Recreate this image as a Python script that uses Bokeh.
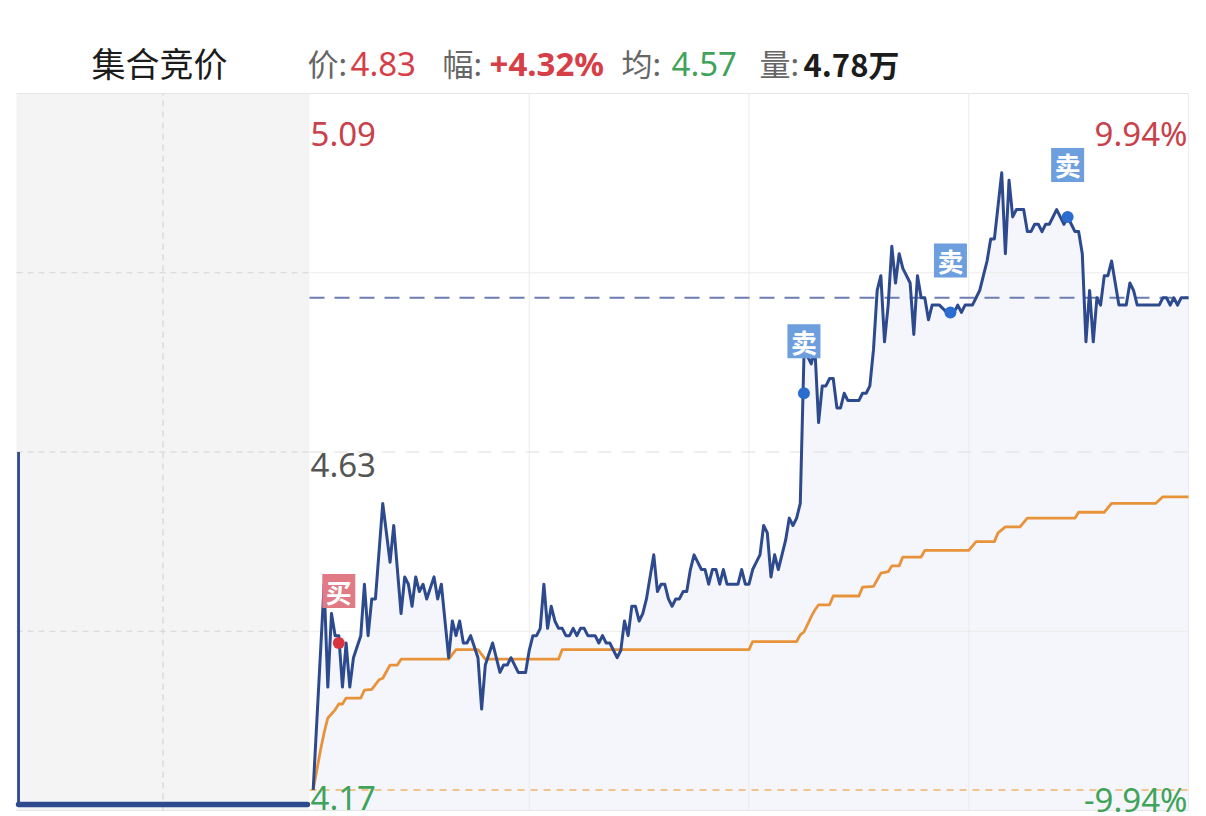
from bokeh.plotting import figure
from bokeh.models import Range1d, BoxAnnotation, Label
from bokeh.core.properties import value
from bokeh.embed import file_html
from bokeh.resources import INLINE

# ---------------- data ----------------
TITLE = "集合竞价"
HEADER_KEYS = ["价:", "幅:", "均:", "量:"]
HEADER_VALS = ["4.83", "+4.32%", "4.57", "4.78万"]
HEADER_KINDS = ["up", "up", "down", "plain"]

PRE_CLOSE = 4.63
LIMIT_UP = 5.09
LIMIT_DOWN = 4.17
UP_PCT = "9.94%"
DOWN_PCT = "-9.94%"

PRICE_MIN = [1, 4, 5, 6, 7, 8, 9, 10, 11, 12, 14, 15, 16, 17, 18, 20, 22, 23, 25, 26,
             27, 28, 29, 30, 31, 32, 34, 35, 36, 38, 39, 40, 41, 42, 43, 44, 46, 47, 48, 50,
             52, 53, 54, 55, 57, 59, 60, 61, 62, 63, 64, 65, 66, 67, 68, 69, 70, 71, 72, 73,
             74, 75, 76, 78, 79, 80, 81, 82, 84, 85, 86, 87, 88, 89, 90, 91, 92, 94, 95, 96,
             97, 98, 99, 100, 101, 102, 103, 104, 105, 106, 107, 108, 109, 110, 111, 112, 113, 114, 117, 118,
             119, 120, 121, 122, 123, 124, 125, 126, 127, 128, 129, 130, 131, 132, 133, 134, 135, 136, 137, 138,
             139, 140, 141, 142, 143, 144, 145, 146, 147, 150, 151, 152, 153, 154, 155, 156, 157, 158, 159, 160,
             161, 162, 163, 164, 165, 166, 167, 168, 169, 170, 172, 174, 176, 177, 178, 179, 181, 182, 183, 184,
             185, 186, 187, 189, 190, 191, 192, 193, 195, 196, 197, 198, 199, 200, 201, 202, 204, 205, 206, 207,
             208, 209, 210, 211, 212, 213, 214, 215, 216, 217, 218, 219, 221, 223, 224, 225, 226, 232, 233, 234,
             235, 236, 237, 238, 240]
PRICE = [4.17, 4.45, 4.31, 4.41, 4.38, 4.38, 4.31, 4.37, 4.31, 4.35, 4.38, 4.45, 4.38, 4.43, 4.43, 4.56, 4.48, 4.53, 4.41, 4.46,
         4.45, 4.42, 4.46, 4.44, 4.45, 4.43, 4.46, 4.43, 4.45, 4.35, 4.40, 4.38, 4.40, 4.37, 4.37, 4.38, 4.35, 4.28, 4.34, 4.37,
         4.33, 4.34, 4.34, 4.35, 4.33, 4.33, 4.36, 4.38, 4.38, 4.39, 4.45, 4.39, 4.42, 4.40, 4.39, 4.39, 4.38, 4.38, 4.39, 4.38,
         4.39, 4.39, 4.38, 4.38, 4.37, 4.38, 4.37, 4.37, 4.35, 4.36, 4.40, 4.38, 4.42, 4.42, 4.40, 4.41, 4.43, 4.49, 4.44, 4.45,
         4.45, 4.43, 4.42, 4.43, 4.43, 4.44, 4.44, 4.47, 4.49, 4.48, 4.47, 4.47, 4.45, 4.47, 4.47, 4.45, 4.47, 4.45, 4.45, 4.47,
         4.45, 4.45, 4.47, 4.48, 4.49, 4.53, 4.52, 4.46, 4.49, 4.47, 4.49, 4.51, 4.54, 4.53, 4.54, 4.56, 4.76, 4.76, 4.75, 4.77,
         4.67, 4.72, 4.72, 4.73, 4.73, 4.69, 4.69, 4.71, 4.70, 4.70, 4.71, 4.71, 4.72, 4.77, 4.85, 4.87, 4.78, 4.83, 4.91, 4.86,
         4.90, 4.88, 4.87, 4.86, 4.79, 4.87, 4.84, 4.84, 4.81, 4.83, 4.83, 4.82, 4.82, 4.83, 4.82, 4.83, 4.83, 4.84, 4.85, 4.87,
         4.89, 4.92, 4.92, 5.01, 4.90, 5.00, 4.95, 4.96, 4.96, 4.93, 4.93, 4.94, 4.94, 4.93, 4.94, 4.94, 4.96, 4.95, 4.94, 4.95,
         4.94, 4.93, 4.93, 4.90, 4.78, 4.85, 4.78, 4.84, 4.83, 4.87, 4.87, 4.89, 4.83, 4.83, 4.86, 4.85, 4.83, 4.83, 4.84, 4.84,
         4.83, 4.84, 4.83, 4.84, 4.84]

AVG_MIN = [1, 2, 3, 4, 5, 7, 8, 9, 10, 14, 15, 17, 19, 20, 22, 24, 25, 38, 40, 46,
           48, 68, 69, 120, 121, 133, 134, 135, 137, 138, 139, 142, 143, 150, 151, 154, 156, 158, 159, 161,
           162, 167, 168, 180, 182, 187, 188, 190, 194, 196, 209, 210, 217, 219, 231, 233, 240]
AVG = [4.170, 4.197, 4.224, 4.248, 4.268, 4.279, 4.287, 4.287, 4.295, 4.295, 4.306, 4.307, 4.320, 4.322, 4.340, 4.340, 4.348, 4.348, 4.361, 4.361,
       4.348, 4.348, 4.361, 4.361, 4.372, 4.372, 4.381, 4.385, 4.406, 4.415, 4.422, 4.422, 4.434, 4.434, 4.446, 4.447, 4.465, 4.467, 4.475, 4.475,
       4.487, 4.487, 4.496, 4.496, 4.508, 4.508, 4.520, 4.528, 4.528, 4.540, 4.540, 4.548, 4.548, 4.560, 4.560, 4.569, 4.569]

AUCTION_T = [0.07, 0.07, 9.93]
AUCTION_P = [4.63, 4.15, 4.15]

BUY_MIN = [8]
BUY_PRICE = [4.37]
SELL_MIN = [135, 175, 207]
SELL_PRICE = [4.71, 4.82, 4.95]

# ---------------- layout (page pixels) ----------------
W, H = 1206, 816
PAGE_X0, PAGE_Y0 = 0, 0
FRAME_L, FRAME_R, FRAME_T, FRAME_B = 16, 1188, 93, 810
SPLIT = 309
SESSION = 240
AUCTION_LEN = 10
HALF = 0.488

Y_TOP = PRE_CLOSE + HALF
Y_BOT = PRE_CLOSE - HALF
ppy = (FRAME_B - FRAME_T) / (2 * HALF)
ppx = (FRAME_R - SPLIT) / SESSION
LEFT_MIN = -(SPLIT - FRAME_L) / ppx
x_start = LEFT_MIN - (FRAME_L - PAGE_X0) / ppx
x_end = SESSION + (PAGE_X0 + W - FRAME_R) / ppx
y_end = Y_TOP + (FRAME_T - PAGE_Y0) / ppy
y_start = Y_BOT + (FRAME_B - (PAGE_Y0 + H)) / ppy
ppa = (SPLIT - FRAME_L) / AUCTION_LEN
a_start = -(FRAME_L - PAGE_X0) / ppa
a_end = AUCTION_LEN + (PAGE_X0 + W - SPLIT) / ppa


def px_x(px):
    return LEFT_MIN + (px - FRAME_L) / ppx


def px_y(py):
    return Y_TOP - (py - FRAME_T) / ppy


RED = "#d63e48"
RED_AX = "#c8414b"
GREEN = "#3fa35a"
GRAY = "#666666"
BLACK = "#1c1c1c"
BLUE = "#2e4a8e"
ORANGE = "#e8923a"

p = figure(width=W, height=H, x_range=Range1d(x_start, x_end), y_range=Range1d(y_start, y_end),
           output_backend="svg", toolbar_location=None, min_border=0,
           x_axis_location=None, y_axis_location=None, outline_line_color=None)
p.grid.visible = False
p.background_fill_color = "white"
p.border_fill_color = "white"
p.extra_x_ranges = {"auction": Range1d(a_start, a_end)}

# left auction panel background
p.add_layout(BoxAnnotation(left=LEFT_MIN, right=0, bottom=Y_BOT, top=Y_TOP,
                           fill_color="#f4f4f4", fill_alpha=1, line_color=None, level="underlay"))

# area under price
p.varea(x=PRICE_MIN, y1=Y_BOT, y2=PRICE, fill_color="#f4f6fb")

q1 = PRE_CLOSE + HALF / 2
q3 = PRE_CLOSE - HALF / 2

# frame borders
p.segment(x0=[LEFT_MIN, LEFT_MIN], y0=[Y_TOP, Y_BOT], x1=[SESSION, SESSION], y1=[Y_TOP, Y_BOT],
          line_color="#e6e6e6", line_width=1)
# right panel grid
p.segment(x0=[0, 0], y0=[q1, q3], x1=[SESSION, SESSION], y1=[q1, q3], line_color="#ebebeb", line_width=1)
p.segment(x0=[60, 120, 180, SESSION], y0=[Y_BOT] * 4, x1=[60, 120, 180, SESSION], y1=[Y_TOP] * 4,
          line_color="#ebebeb", line_width=1)
p.segment(x0=[0], y0=[PRE_CLOSE], x1=[SESSION], y1=[PRE_CLOSE], line_color="#dddddd",
          line_width=1.2, line_dash="14 10")
# left panel grid (dashed)
p.segment(x0=[LEFT_MIN] * 3, y0=[q1, PRE_CLOSE, q3], x1=[0] * 3, y1=[q1, PRE_CLOSE, q3],
          line_color="#d4d4d4", line_width=1.2, line_dash="6 5")
p.segment(x0=[AUCTION_LEN / 2], y0=[Y_BOT], x1=[AUCTION_LEN / 2], y1=[Y_TOP], x_range_name="auction",
          line_color="#d4d4d4", line_width=1.2, line_dash="6 5")

# limit-down and last price reference lines
p.segment(x0=[0], y0=[LIMIT_DOWN], x1=[SESSION], y1=[LIMIT_DOWN], line_color="#f2b36c",
          line_width=1.5, line_dash="7 6")
p.segment(x0=[0], y0=[PRICE[-1]], x1=[SESSION], y1=[PRICE[-1]], line_color="#6c7db2",
          line_width=1.8, line_dash="15 10")

# average and price lines
p.line(AVG_MIN, AVG, line_color=ORANGE, line_width=2.8, line_join="round")
p.line(PRICE_MIN, PRICE, line_color=BLUE, line_width=3, line_join="round")

# auction line
p.line(AUCTION_T, AUCTION_P, x_range_name="auction", line_color=BLUE, line_width=2.8)
p.line(AUCTION_T[1:], AUCTION_P[1:], x_range_name="auction", line_color=BLUE, line_width=5.5, line_cap="round")

# trade markers
BOX_RISE = 52 / ppy
p.scatter(BUY_MIN, BUY_PRICE, size=12, fill_color="#d8343f", line_color=None)
p.scatter(SELL_MIN, SELL_PRICE, size=12, fill_color="#2a6dcf", line_color=None)
p.rect(x=BUY_MIN, y=[v + BOX_RISE for v in BUY_PRICE], width=33, height=34,
       width_units="screen", height_units="screen", fill_color="#e07b86", line_color=None)
p.rect(x=SELL_MIN, y=[v + BOX_RISE for v in SELL_PRICE], width=33, height=34,
       width_units="screen", height_units="screen", fill_color="#6d9edd", line_color=None)
p.text(x=BUY_MIN, y=[v + BOX_RISE for v in BUY_PRICE], text=["买"] * len(BUY_MIN),
       text_font=value("Noto Sans CJK SC"), text_font_size="26px", text_color="white",
       text_align="center", text_baseline="middle", text_font_style="bold")
p.text(x=SELL_MIN, y=[v + BOX_RISE for v in SELL_PRICE], text=["卖"] * len(SELL_MIN),
       text_font=value("Noto Sans CJK SC"), text_font_size="26px", text_color="white",
       text_align="center", text_baseline="middle", text_font_style="bold")


def label(px, py, text, color, size, font="Noto Sans", align="left", style="normal"):
    p.add_layout(Label(x=px_x(px), y=px_y(py), text=text, text_color=color, text_font=font,
                       text_font_size=size, text_align=align, text_baseline="alphabetic",
                       text_font_style=style))


# axis value labels
label(310, 133, f"{LIMIT_UP:.2f}", RED_AX, "33px")
label(1187, 133, UP_PCT, RED_AX, "33px", align="right")
label(310, 464, f"{PRE_CLOSE:.2f}", "#555555", "33px")
label(310, 797, f"{LIMIT_DOWN:.2f}", GREEN, "33px")
label(1187, 799, DOWN_PCT, GREEN, "33px", align="right")

# header
label(91, 62, TITLE, BLACK, "34px", font="Noto Sans CJK SC")
KEY_X = [307, 442, 621, 759]
VAL_X = [350, 489, 671, 803]
colors = {"up": RED, "down": GREEN, "plain": BLACK}
for k, v, kind, kx, vx in zip(HEADER_KEYS, HEADER_VALS, HEADER_KINDS, KEY_X, VAL_X):
    label(kx, 62, k, GRAY, "31px", font="Noto Sans CJK SC")
    if kind == "plain":
        label(vx, 63, v, colors[kind], "31px", font="Noto Sans CJK SC", style="bold")
    else:
        label(vx, 63, v, colors[kind], "33px", style="bold" if v.startswith("+") else "normal")

open("out.html", "w").write(file_html(p, INLINE))
